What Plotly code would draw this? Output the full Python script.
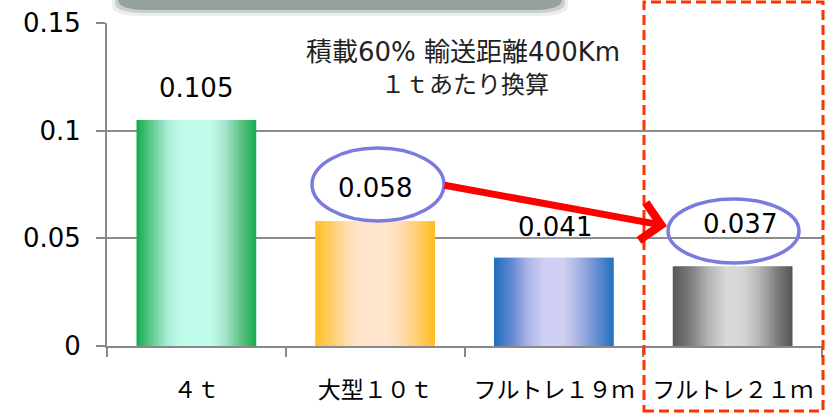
import plotly.graph_objects as go

# ---- data ----
categories = ["４ｔ", "大型１０ｔ", "フルトレ１９ｍ", "フルトレ２１ｍ"]
values = [0.105, 0.058, 0.041, 0.037]
value_labels = ["0.105", "0.058", "0.041", "0.037"]
y_ticks = [0, 0.05, 0.1, 0.15]
y_tick_labels = ["0", "0.05", "0.1", "0.15"]
title_lines = ["積載60% 輸送距離400Km", "１ｔあたり換算"]

# ---- styles ----
label_yshift = [32, 33, 31, 42]
label_xshift = [0, 0, 1, 7]
gradients = [
    [(0.0, "#12ad4e"), (0.12, "#5cc888"), (0.26, "#a8eed6"), (0.38, "#c0fcec"),
     (0.62, "#c0fcec"), (0.74, "#a4e6cc"), (0.88, "#5cc080"), (1.0, "#14ae50")],
    [(0.0, "#ffbf1f"), (0.14, "#ffcf6e"), (0.30, "#ffe0bc"), (0.38, "#ffe5cc"),
     (0.60, "#ffe5cc"), (0.72, "#ffdcb0"), (0.88, "#ffcb60"), (1.0, "#ffbd1e")],
    [(0.0, "#1c6fc1"), (0.14, "#5f86cf"), (0.28, "#aab4e6"), (0.42, "#cfd0f3"),
     (0.58, "#cfd0f3"), (0.72, "#a3b0e2"), (0.88, "#5d88cf"), (1.0, "#1f70c1")],
    [(0.0, "#575757"), (0.14, "#7a7a7a"), (0.30, "#b5b5b5"), (0.45, "#d9d9d9"),
     (0.58, "#d6d6d6"), (0.72, "#b8b8b8"), (0.88, "#7a7a7a"), (1.0, "#555555")],
]


def hex2rgb(h):
    h = h.lstrip("#")
    return tuple(int(h[i:i + 2], 16) for i in (0, 2, 4))


def interp(stops, f):
    for (p0, c0), (p1, c1) in zip(stops[:-1], stops[1:]):
        if p0 <= f <= p1:
            t = 0 if p1 == p0 else (f - p0) / (p1 - p0)
            a, b = hex2rgb(c0), hex2rgb(c1)
            r = [round(a[k] + (b[k] - a[k]) * t) for k in range(3)]
            return "rgb(%d,%d,%d)" % tuple(r)
    return stops[-1][1]


bar_width = 0.67
n_strips = 48
strip_w = bar_width / n_strips

fig = go.Figure()
for i in range(n_strips):
    f = (i + 0.5) / n_strips
    cols = [interp(g, f) for g in gradients]
    w = strip_w * (1.6 if i < n_strips - 1 else 1.0)
    fig.add_trace(go.Bar(
        x=categories, y=values,
        offset=-bar_width / 2 + i * strip_w, width=w,
        marker=dict(color=cols, line=dict(width=0)),
        hoverinfo="skip", showlegend=False,
    ))

# value labels
for c, v, t, ys, xs in zip(categories, values, value_labels, label_yshift, label_xshift):
    fig.add_annotation(x=c, y=v, text=t, showarrow=False, yshift=ys, xshift=xs,
                       font=dict(family="DejaVu Sans", size=26, color="#000000"))

# title text
fig.add_annotation(xref="paper", yref="paper", x=(463 - 107) / 715, y=(346 - 52) / 323,
                   xanchor="center", yanchor="middle", text=title_lines[0],
                   showarrow=False,
                   font=dict(family="DejaVu Sans, Noto Sans CJK JP", size=26, color="#222222"))
fig.add_annotation(xref="paper", yref="paper", x=(465 - 107) / 715, y=(346 - 85) / 323,
                   xanchor="center", yanchor="middle", text=title_lines[1],
                   showarrow=False,
                   font=dict(family="DejaVu Sans, Noto Sans CJK JP", size=24, color="#222222"))

# red arrow
fig.add_annotation(xref="paper", yref="paper", x=(667 - 107) / 715, y=(346 - 226) / 323,
                   ax=-224, ay=-41, text="", showarrow=True, arrowhead=4, arrowsize=1.05,
                   arrowwidth=7, arrowcolor="#ff0000", standoff=0, startstandoff=0)

shapes = []
# top grey shadowed box (clipped at top)
for (x0, x1, yb, col) in [(112, 568, 16, "#eceeed"), (115, 565, 13, "#c9cfcc"), (118, 562, 10, "#96a09c")]:
    X0 = (x0 - 107) / 715
    X1 = (x1 - 107) / 715
    Yb = (346 - yb) / 323
    Yt = (346 + 20) / 323
    rx = 30 / 715
    ry = 10 / 323
    path = (f"M {X0},{Yt} L {X0},{Yb + ry} Q {X0},{Yb} {X0 + rx},{Yb} "
            f"L {X1 - rx},{Yb} Q {X1},{Yb} {X1},{Yb + ry} L {X1},{Yt} Z")
    shapes.append(dict(type="path", xref="paper", yref="paper", path=path,
                       fillcolor=col, line=dict(width=0), layer="above"))

# ellipses
shapes.append(dict(type="circle", xref="paper", yref="paper",
                   x0=(312 - 107) / 715, x1=(444 - 107) / 715,
                   y0=(346 - 221) / 323, y1=(346 - 148) / 323,
                   line=dict(color="#7b7bdf", width=3.5)))
shapes.append(dict(type="circle", xref="paper", yref="paper",
                   x0=(668 - 107) / 715, x1=(799 - 107) / 715,
                   y0=(346 - 263) / 323, y1=(346 - 199) / 323,
                   line=dict(color="#7b7bdf", width=3.5)))
# red dashed rectangle
shapes.append(dict(type="rect", xref="paper", yref="paper",
                   x0=(644 - 107) / 715, x1=(823 - 107) / 715,
                   y0=(346 - 411) / 323, y1=(346 - 2) / 323,
                   line=dict(color="#ff3300", width=3, dash="10px,5px")))

fig.update_layout(
    width=827, height=419,
    margin=dict(l=107, r=5, t=23, b=73),
    paper_bgcolor="white", plot_bgcolor="white",
    barmode="overlay",
    shapes=shapes,
    font=dict(family="DejaVu Sans, Noto Sans CJK JP", color="#000000"),
)
fig.update_xaxes(
    type="category", showgrid=False, showline=True, linecolor="#898989", linewidth=2,
    ticks="outside", tickson="boundaries", ticklen=9, tickcolor="#898989", tickwidth=2,
    tickfont=dict(family="Noto Sans CJK JP", size=23, color="#000000"),
    ticklabelstandoff=22, range=[-0.5, 3.5], automargin=False,
)
fig.update_yaxes(
    range=[0, 0.15], tickvals=y_ticks, ticktext=y_tick_labels,
    showgrid=True, gridcolor="#8c8c8c", gridwidth=1.5,
    showline=True, linecolor="#898989", linewidth=2,
    ticks="outside", ticklen=9, tickcolor="#898989", tickwidth=2,
    tickfont=dict(family="DejaVu Sans", size=26, color="#000000"),
    ticklabelstandoff=10, zeroline=False, automargin=False,
)

fig.write_html("out.html", config={"displayModeBar": False},
               post_script="document.body.style.margin='0';document.body.style.overflow='hidden';")
